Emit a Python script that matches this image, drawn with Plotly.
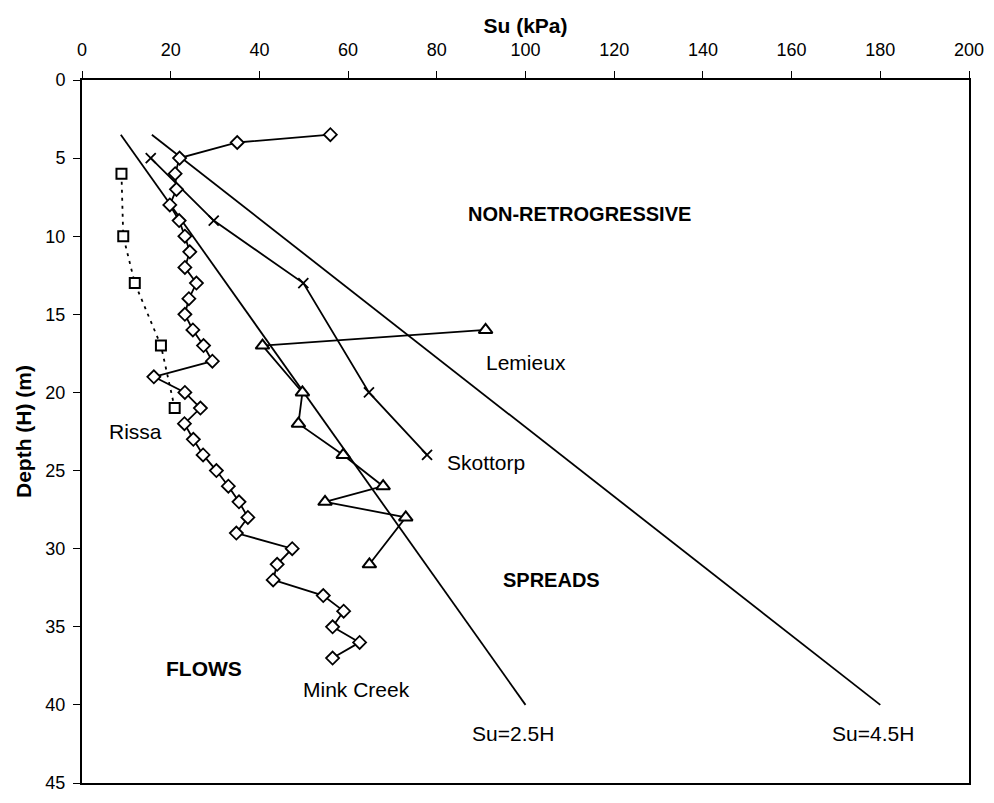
import plotly.graph_objects as go

# Mink Creek (diamonds)
mink_su = [56, 35, 22, 21, 21.3, 19.8, 21.9, 23.2, 24.3, 23.2, 25.8, 24.1, 23.2, 25.0, 27.4, 29.4,
           16.2, 23.2, 26.7, 23.1, 25.1, 27.3, 30.3, 33.0, 35.4, 37.4, 34.8, 47.4, 44.0, 43.1, 54.4,
           59.0, 56.5, 62.6, 56.5]
mink_h = [3.5, 4, 5, 6, 7, 8, 9, 10, 11, 12, 13, 14, 15, 16, 17, 18, 19, 20, 21, 22, 23, 24, 25,
          26, 27, 28, 29, 30, 31, 32, 33, 34, 35, 36, 37]

# Rissa (squares, dotted)
rissa_su = [8.9, 9.3, 11.9, 17.8, 20.9]
rissa_h = [6, 10, 13, 17, 21]

# Skottorp (crosses)
skot_su = [15.5, 29.7, 49.9, 64.7, 77.8]
skot_h = [5, 9, 13, 20, 24]

# Lemieux (triangles)
lem_su = [91, 40.7, 49.7, 48.8, 58.9, 67.9, 54.8, 73.0, 64.8]
lem_h = [16, 17, 20, 22, 24, 26, 27, 28, 31]

# Boundary lines Su = k*H
line_h = [3.5, 40]
k_low = 2.5
k_high = 4.5

x_ticks = [0, 20, 40, 60, 80, 100, 120, 140, 160, 180, 200]
y_ticks = [0, 5, 10, 15, 20, 25, 30, 35, 40, 45]

BLACK = "black"
LW = 1.8
fig = go.Figure()

fig.add_trace(go.Scatter(x=[k_low * h for h in line_h], y=line_h, mode="lines",
                         line=dict(color=BLACK, width=LW), showlegend=False))
fig.add_trace(go.Scatter(x=[k_high * h for h in line_h], y=line_h, mode="lines",
                         line=dict(color=BLACK, width=LW), showlegend=False))

fig.add_trace(go.Scatter(x=rissa_su, y=rissa_h, mode="lines+markers",
                         line=dict(color=BLACK, width=LW, dash="3px,5px"),
                         marker=dict(symbol="square", size=10, color="white",
                                     line=dict(color=BLACK, width=2)),
                         showlegend=False))
fig.add_trace(go.Scatter(x=skot_su, y=skot_h, mode="lines+markers",
                         line=dict(color=BLACK, width=LW),
                         marker=dict(symbol="x-thin", size=10, color=BLACK,
                                     line=dict(color=BLACK, width=1.8)),
                         showlegend=False))
fig.add_trace(go.Scatter(x=lem_su, y=lem_h, mode="lines+markers",
                         line=dict(color=BLACK, width=LW),
                         marker=dict(symbol="triangle-up", size=12, color="white",
                                     line=dict(color=BLACK, width=2)),
                         showlegend=False))
fig.add_trace(go.Scatter(x=mink_su, y=mink_h, mode="lines+markers",
                         line=dict(color=BLACK, width=LW),
                         marker=dict(symbol="diamond", size=10, color="white",
                                     line=dict(color=BLACK, width=1.8)),
                         showlegend=False))

FONT = "Liberation Sans, Arial, sans-serif"

labels = [
    ("<b>NON-RETROGRESSIVE</b>", 112.1, 8.6, 20),
    ("Lemieux", 100, 18.1, 21),
    ("Skottorp", 91.2, 24.5, 21),
    ("Rissa", 12.1, 22.5, 21),
    ("<b>SPREADS</b>", 105.8, 32.0, 20),
    ("<b>FLOWS</b>", 27.6, 37.7, 21),
    ("Mink Creek", 61.8, 39.0, 21),
    ("Su=2.5H", 97.1, 41.8, 21),
    ("Su=4.5H", 178.4, 41.8, 21),
]
for txt, x, y, sz in labels:
    fig.add_annotation(x=x, y=y, text=txt, showarrow=False,
                       font=dict(family=FONT, size=sz, color=BLACK))

fig.update_layout(
    width=994, height=803,
    margin=dict(l=82, r=21, t=80, b=10),
    paper_bgcolor="white", plot_bgcolor="white",
    font=dict(family=FONT, color=BLACK),
    xaxis=dict(side="top", range=[0, 200], tickvals=x_ticks,
               showgrid=False, zeroline=False,
               showline=True, mirror=True, linecolor=BLACK, linewidth=2,
               ticks="outside", ticklen=7, tickcolor=BLACK, tickwidth=1.3,
               ticklabelstandoff=8,
               tickfont=dict(family=FONT, size=18, color=BLACK),
               title=dict(text="<b>Su (kPa)</b>", font=dict(family=FONT, size=21, color=BLACK),
                          standoff=0)),
    yaxis=dict(range=[45, 0], tickvals=y_ticks,
               showgrid=False, zeroline=False,
               showline=True, mirror=True, linecolor=BLACK, linewidth=2,
               ticks="outside", ticklen=7, tickcolor=BLACK, tickwidth=1.3,
               ticklabelstandoff=4,
               tickfont=dict(family=FONT, size=18, color=BLACK),
               title=dict(text="<b>Depth (H) (m)</b>", font=dict(family=FONT, size=21, color=BLACK),
                          standoff=8)),
)

fig.write_html("out.html")
